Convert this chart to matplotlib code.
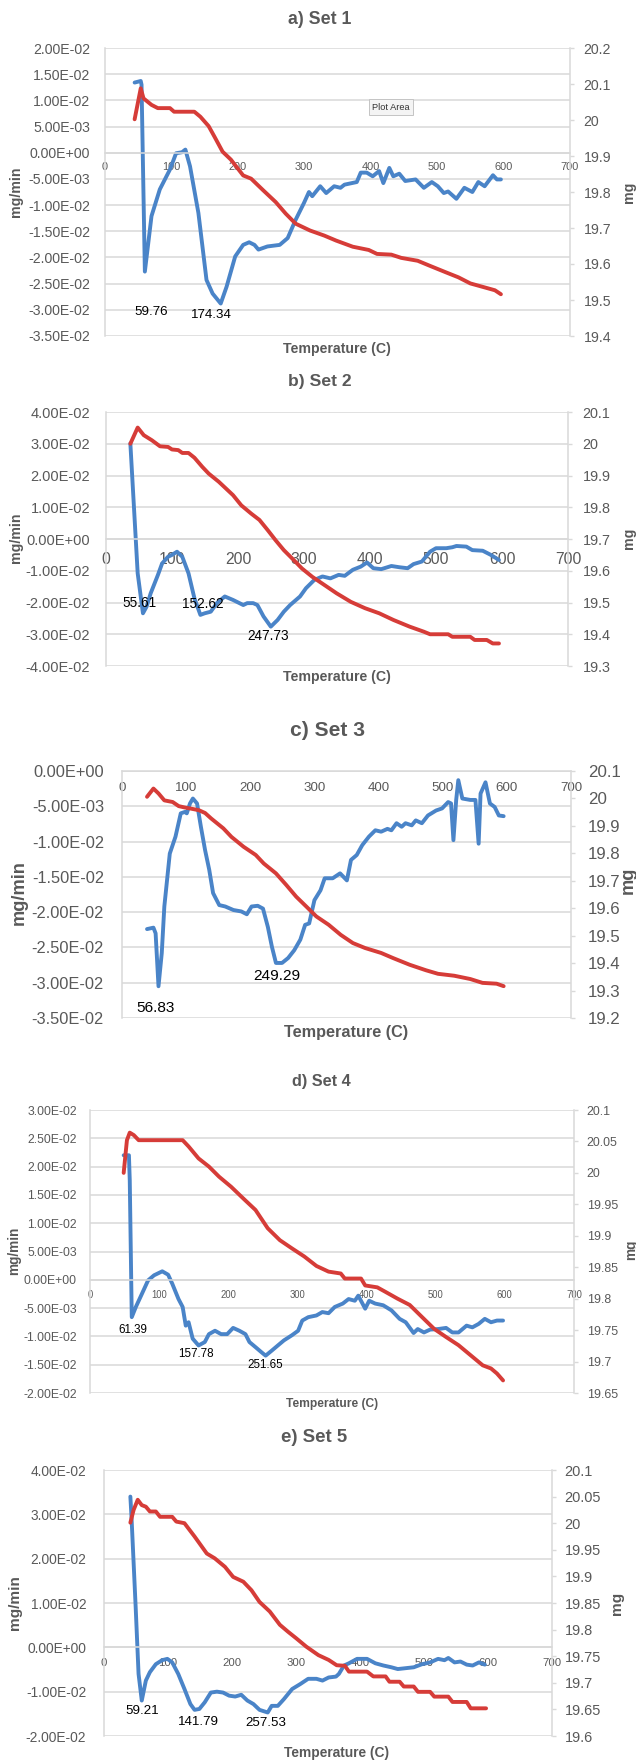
import numpy as np
import matplotlib
matplotlib.use('Agg')
import matplotlib.pyplot as plt
from matplotlib.ticker import FuncFormatter

plt.rcParams['font.family'] = ['Liberation Sans', 'DejaVu Sans']

# ---------------- DATA ----------------
# DTG values (mg/min) are stored in units of 1e-2 ; TG values in mg ; temperature in C
DTG_UNIT = 1e-2

set1_dtg = [(44.6, 1.34), (53.8, 1.37), (55, 1.30), (60, -2.27), (70, -1.21), (82.5, -0.70), (97.8, -0.32),
            (107, -0.01), (116, 0.01), (121, 0.06), (128, -0.26), (140.6, -1.15), (152.8, -2.43), (162, -2.69),
            (174.2, -2.88), (183, -2.56), (196, -1.98), (208, -1.76), (217, -1.71), (225, -1.76), (231, -1.85),
            (244.5, -1.79), (263, -1.76), (275, -1.63), (287, -1.28), (299.5, -0.96), (307, -0.75), (312, -0.83),
            (324, -0.64), (333, -0.77), (345, -0.64), (354.5, -0.67), (360.5, -0.61), (379, -0.56), (385, -0.38),
            (394, -0.38), (403, -0.45), (412.6, -0.35), (419, -0.58), (428, -0.29), (434, -0.45), (443, -0.40),
            (452, -0.54), (467.6, -0.51), (480, -0.67), (492, -0.56), (501, -0.64), (510, -0.77), (516.5, -0.74),
            (529, -0.88), (541, -0.67), (553, -0.75), (562, -0.56), (571.5, -0.64), (584, -0.43), (590, -0.51),
            (596, -0.51)]
set1_tg = [(44.6, 20.002), (53.8, 20.088), (58, 20.06), (70, 20.042), (79.5, 20.033), (97.8, 20.033),
           (104, 20.023), (134.5, 20.023), (143.6, 20.009), (156, 19.983), (165, 19.953), (177, 19.912),
           (189.5, 19.89), (208, 19.846), (220, 19.837), (238, 19.805), (257, 19.772), (272, 19.74), (287, 19.712),
           (308.7, 19.693), (330, 19.679), (348, 19.665), (373, 19.648), (397, 19.639), (409.5, 19.628),
           (431, 19.626), (446, 19.617), (470.7, 19.609), (489, 19.595), (513, 19.577), (532, 19.563),
           (550, 19.546), (571.5, 19.535), (587, 19.527), (596, 19.516)]
set1_peaks = ['59.76', '174.34']

set2_dtg = [(36.9, 3.01), (48, -1.08), (56, -2.34), (61.5, -2.13), (67.7, -1.71), (78.7, -1.13), (85, -0.77),
            (94, -0.56), (100, -0.50), (107.6, -0.40), (115.6, -0.56), (125, -1.08), (134, -1.87), (143, -2.39),
            (149.5, -2.34), (158.7, -2.29), (168, -2.02), (180, -1.81), (192.5, -1.92), (208, -2.08),
            (214, -2.02), (223, -2.02), (229.4, -2.08), (238.7, -2.44), (249.7, -2.76), (260, -2.55),
            (269.4, -2.29), (279, -2.08), (294, -1.81), (303, -1.55), (315.6, -1.29), (328, -1.18), (340, -1.24),
            (352.5, -1.13), (361.7, -1.16), (374, -0.97), (386, -0.87), (395.5, -0.74), (405, -0.92),
            (417, -0.95), (432.4, -0.85), (444.7, -0.89), (457, -0.92), (466, -0.79), (478.6, -0.71),
            (491, -0.40), (500, -0.29), (515.5, -0.29), (524.7, -0.26), (531, -0.22), (546, -0.24), (555, -0.35),
            (570.8, -0.37), (583, -0.50), (595.4, -0.66)]
set2_tg = [(36.9, 20.0), (48, 20.051), (57.2, 20.027), (69.5, 20.011), (81.8, 19.992), (94, 19.99), (100, 19.982),
           (109.5, 19.98), (115.6, 19.971), (125, 19.971), (134, 19.956), (146, 19.927), (155.6, 19.906),
           (171, 19.88), (192.5, 19.838), (205, 19.806), (220, 19.78), (232.5, 19.76), (245, 19.728),
           (257, 19.696), (269.4, 19.665), (284.8, 19.633), (297, 19.607), (312.5, 19.581), (331, 19.555),
           (349.4, 19.529), (371, 19.502), (392.5, 19.482), (414, 19.466), (435.5, 19.445), (460, 19.424),
           (481.6, 19.408), (491, 19.4), (518.5, 19.4), (524.7, 19.392), (552, 19.392), (558.5, 19.382),
           (577, 19.382), (586, 19.371), (595.4, 19.371)]
set2_peaks = ['55.61', '152.62', '247.73']

set3_dtg = [(39, -2.24), (49, -2.22), (52.4, -2.30), (56.9, -3.05), (62, -2.58), (66, -1.92), (74.5, -1.17),
            (83.4, -0.93), (91.6, -0.60), (98, -0.58), (101, -0.60), (106, -0.46), (110.5, -0.39), (117, -0.46),
            (123, -0.79), (129.5, -1.12), (136, -1.40), (142, -1.73), (151.6, -1.90), (161, -1.92),
            (173.7, -1.97), (186, -1.99), (194.6, -2.03), (202, -1.92), (211.6, -1.91), (219.8, -1.95),
            (227.4, -2.21), (233.7, -2.49), (240, -2.72), (249.5, -2.72), (259, -2.65), (268.5, -2.54),
            (278, -2.39), (285.5, -2.18), (291.8, -2.16), (300, -1.83), (309.5, -1.69), (316, -1.52),
            (328.5, -1.52), (340, -1.45), (350.6, -1.55), (357, -1.26), (366, -1.19), (374.6, -1.05),
            (385, -0.93), (395, -0.84), (404, -0.86), (413.8, -0.82), (420, -0.84), (428, -0.74), (436, -0.79),
            (442, -0.74), (451.7, -0.77), (458, -0.70), (467.5, -0.74), (477, -0.63), (489.6, -0.56),
            (499, -0.53), (508.5, -0.44), (513, -0.46), (516.7, -0.98), (521, -0.41), (524.3, -0.13),
            (530.6, -0.39), (543, -0.41), (551, -0.41), (556, -1.03), (559, -0.32), (566.7, -0.16),
            (573.6, -0.46), (581, -0.51), (587.5, -0.63), (595, -0.64)]
set3_tg = [(39, 20.006), (49, 20.036), (57, 20.018), (66, 19.993), (79, 19.987), (88.4, 19.972), (98, 19.967),
           (107.4, 19.963), (120, 19.957), (129.5, 19.947), (139, 19.927), (158, 19.891), (170.6, 19.86),
           (189.5, 19.824), (208.5, 19.794), (221, 19.763), (240, 19.727), (256, 19.685), (271.6, 19.642),
           (287.4, 19.606), (303, 19.57), (322, 19.54), (341, 19.503), (360, 19.473), (379, 19.455),
           (404, 19.437), (423, 19.418), (448.5, 19.394), (473.8, 19.374), (492.7, 19.361), (518, 19.354),
           (543, 19.342), (562, 19.328), (584, 19.325), (595, 19.316)]
set3_peaks = ['56.83', '249.29']

set4_dtg = [(48.7, 2.20), (56.3, 2.20), (57.5, 1.76), (60.4, -0.66), (66.3, -0.48), (75, -0.25), (84, -0.01),
            (92.7, 0.08), (104.5, 0.15), (113, 0.09), (119, -0.07), (128, -0.34), (134, -0.48), (138.5, -0.81),
            (142.6, -0.75), (148.5, -1.04), (157, -1.16), (166, -1.10), (172, -0.96), (180.8, -0.90),
            (189.6, -0.96), (198.4, -0.96), (207, -0.85), (216, -0.90), (224.8, -0.96), (230.6, -1.10),
            (239.4, -1.19), (248, -1.28), (254, -1.34), (263, -1.25), (271.7, -1.16), (280.5, -1.07),
            (292, -0.98), (301, -0.90), (307, -0.72), (315.7, -0.66), (327.5, -0.63), (336, -0.57), (345, -0.59),
            (354, -0.48), (365.6, -0.42), (374, -0.34), (383, -0.37), (388, -0.28), (398, -0.51), (403.8, -0.37),
            (412.5, -0.42), (424, -0.45), (436, -0.54), (447.8, -0.69), (456.6, -0.75), (468, -0.94),
            (474, -0.87), (483, -0.93), (491.8, -0.88), (503.5, -0.87), (515, -0.85), (524, -0.93),
            (533, -0.93), (544.6, -0.81), (553, -0.84), (562, -0.78), (571, -0.69), (580, -0.75),
            (588.6, -0.72), (597.4, -0.72)]
set4_tg = [(48.7, 20.0), (53.4, 20.052), (57.5, 20.064), (63.4, 20.06), (70.4, 20.052), (134, 20.052),
           (142.6, 20.042), (157, 20.023), (172, 20.01), (186.6, 19.994), (204, 19.978), (222, 19.959),
           (239.4, 19.941), (257, 19.912), (274.6, 19.893), (292, 19.88), (310, 19.867), (327.5, 19.852),
           (345, 19.843), (362.7, 19.84), (368.5, 19.832), (392, 19.832), (398, 19.821), (415.5, 19.818),
           (427, 19.811), (444.8, 19.8), (462.4, 19.79), (480, 19.771), (497.7, 19.752), (515, 19.739),
           (533, 19.726), (550.5, 19.71), (568, 19.694), (580, 19.689), (588.6, 19.681), (597.4, 19.67)]
set4_peaks = ['61.39', '157.78', '251.65']

set5_dtg = [(41.2, 3.40), (43, 2.93), (49.5, 0.90), (54, -0.60), (59, -1.20), (65.4, -0.75), (71.7, -0.56),
            (81, -0.38), (90.8, -0.29), (99, -0.26), (106.6, -0.34), (116, -0.60), (125.7, -0.94), (135, -1.28),
            (141.5, -1.41), (149, -1.39), (157.4, -1.24), (167, -1.02), (176.4, -1.00), (186, -1.02),
            (195.5, -1.09), (205, -1.11), (214.5, -1.07), (224, -1.20), (233.5, -1.28), (243, -1.41),
            (255.8, -1.47), (262, -1.32), (271.6, -1.32), (281, -1.17), (294, -0.94), (306.5, -0.83),
            (319, -0.71), (331.9, -0.71), (341.4, -0.75), (351, -0.68), (362.4, -0.66), (367, -0.60),
            (375, -0.41), (382.7, -0.36), (395.4, -0.26), (411, -0.26), (424, -0.36), (436.6, -0.41),
            (449, -0.45), (459, -0.49), (471.5, -0.47), (484, -0.45), (497, -0.38), (509.6, -0.34),
            (522, -0.26), (532, -0.29), (538, -0.24), (547.7, -0.34), (557, -0.32), (566.7, -0.39),
            (576, -0.41), (585.8, -0.34), (595, -0.39)]
set5_tg = [(41.2, 20.001), (46.3, 20.025), (52.7, 20.044), (59, 20.034), (65.4, 20.031), (71.7, 20.022),
           (81, 20.022), (87.6, 20.012), (106.6, 20.012), (113, 20.003), (125.7, 20.0), (141.5, 19.975),
           (160.6, 19.943), (173, 19.934), (189, 19.918), (201.8, 19.899), (217.7, 19.89), (230.4, 19.874),
           (243, 19.852), (259, 19.834), (274.8, 19.809), (287.5, 19.796), (300, 19.784), (316, 19.768),
           (335, 19.752), (351, 19.743), (363.6, 19.733), (376.4, 19.732), (382.7, 19.721), (411, 19.721),
           (420.8, 19.712), (440, 19.712), (446, 19.702), (462, 19.702), (468.4, 19.693), (484, 19.693),
           (490.6, 19.683), (509.6, 19.683), (516, 19.674), (538, 19.674), (544.5, 19.664), (566.7, 19.664),
           (573, 19.652), (597, 19.652)]
set5_peaks = ['59.21', '141.79', '257.53']

titles = ['a) Set 1', 'b) Set 2', 'c) Set 3', 'd) Set 4', 'e) Set 5']
x_ticks = [0, 100, 200, 300, 400, 500, 600, 700]
x_title = 'Temperature (C)'
left_title = 'mg/min'
right_title = 'mg'

# ---------------- LAYOUT / STYLE (pixel positions, font sizes) ----------------
W, H = 636, 1760
BLUE = '#4a84c8'
RED = '#d63c38'
GRID = '#d9d9d9'
TXT = '#595959'
FS = 0.85  # font scale (reference uses a narrow Calibri-like face)

layouts = [
    dict(box=(105, 48, 570, 336), left=(-0.035, 0.02, 0.005), right=(19.4, 20.2, 0.1),
         title_xy=(320, 19), title_fs=15, ytick_fs=12, xtick_fs=9.3, rtick_fs=12, ypad=10.8, rpad=7.2, xpad=6.8,
         xlabel_xy=(337, 349), xlabel_fs=12, ylabel_xy=(16, 192), ylabel_fs=12, rlabel_xy=(629, 192), rlabel_fs=12,
         ann_fs=11.3, ann_pos=[(70, -3.05), (160, -3.1)]),
    dict(box=(106, 412, 568, 666), left=(-0.04, 0.04, 0.01), right=(19.3, 20.1, 0.1),
         title_xy=(320, 381), title_fs=14.8, ytick_fs=12.4, xtick_fs=13.4, rtick_fs=12.2, ypad=11.5, rpad=7.9, xpad=9,
         xlabel_xy=(337, 677), xlabel_fs=12, ylabel_xy=(16, 538), ylabel_fs=12, rlabel_xy=(629, 538), rlabel_fs=12,
         ann_fs=11.5, ann_pos=[(51, -2.02), (146.4, -2.05), (246, -3.04)]),
    dict(box=(122, 771, 571, 1018), left=(-0.035, 0.0, 0.005), right=(19.2, 20.1, 0.1),
         title_xy=(327, 730), title_fs=17.8, ytick_fs=13.9, xtick_fs=11.3, rtick_fs=14.3, ypad=13, rpad=9.4, xpad=8,
         xlabel_xy=(346, 1032), xlabel_fs=13.8, ylabel_xy=(19, 893), ylabel_fs=15.5, rlabel_xy=(628, 880), rlabel_fs=15.5,
         ann_fs=13, ann_pos=[(52.4, -3.36), (242, -2.90)]),
    dict(box=(90, 1110, 574, 1393), left=(-0.02, 0.03, 0.005), right=(19.65, 20.1, 0.05),
         title_xy=(321, 1081), title_fs=13.8, ytick_fs=10.4, xtick_fs=8.1, rtick_fs=10.5, ypad=9.4, rpad=6.5, xpad=7,
         xlabel_xy=(332, 1404), xlabel_fs=10.2, ylabel_xy=(14, 1251), ylabel_fs=11.5, rlabel_xy=(631, 1250), rlabel_fs=11.5,
         ann_fs=9.8, ann_pos=[(62, -0.88), (152.6, -1.31), (253, -1.50)]),
    dict(box=(104, 1470, 552, 1736), left=(-0.02, 0.04, 0.01), right=(19.6, 20.1, 0.05),
         title_xy=(314, 1437), title_fs=15.8, ytick_fs=11.7, xtick_fs=9.6, rtick_fs=12.3, ypad=12.7, rpad=6.5, xpad=8,
         xlabel_xy=(336, 1753), xlabel_fs=11.7, ylabel_xy=(15, 1603), ylabel_fs=13, rlabel_xy=(617, 1603), rlabel_fs=13,
         ann_fs=11.3, ann_pos=[(59, -1.43), (148, -1.69), (252.6, -1.71)]),
]

fig = plt.figure(figsize=(W / 100, H / 100), dpi=100)


def fx(x):
    return x / W


def fy(y):
    return 1 - y / H


def make_ticks(lo, hi, st):
    n = int(round((hi - lo) / st))
    return [round(lo + i * st, 6) for i in range(n + 1)]


def draw(dtg, tg, peaks, title, lay):
    l, t, r, b = lay['box']
    ax = fig.add_axes([l / W, 1 - b / H, (r - l) / W, (b - t) / H])
    ax.patch.set_alpha(0)
    lo, hi, st = lay['left']
    ax.set_xlim(0, 700)
    ax.set_ylim(lo, hi)
    ax.set_yticks(make_ticks(lo, hi, st))
    ax.yaxis.set_major_formatter(FuncFormatter(lambda v, p: format(round(v, 6) + 0.0, '.2E')))
    ax.set_xticks(x_ticks)
    ax.set_xticklabels([str(v) for v in x_ticks])
    ax.yaxis.grid(True, color=GRID, lw=1.1)
    ax.set_axisbelow(True)
    for s in ('top', 'right'):
        ax.spines[s].set_visible(False)
    ax.spines['left'].set_color(GRID)
    ax.spines['left'].set_linewidth(1.1)
    ax.spines['bottom'].set_position(('data', 0))
    ax.spines['bottom'].set_color(GRID)
    ax.spines['bottom'].set_linewidth(1.1)
    ax.tick_params(axis='y', length=0, pad=lay['ypad'], labelsize=lay['ytick_fs'] * FS, labelcolor=TXT)
    ax.tick_params(axis='x', length=0, pad=lay['xpad'], labelsize=lay['xtick_fs'] * FS, labelcolor=TXT)

    d = np.array(dtg)
    ax.plot(d[:, 0], d[:, 1] * DTG_UNIT, color=BLUE, lw=2.8, solid_joinstyle='round', solid_capstyle='round')
    for txt, (px, py) in zip(peaks, lay['ann_pos']):
        ax.text(px, py * DTG_UNIT, txt, ha='center', va='center', fontsize=lay['ann_fs'] * FS, color='black')

    ax2 = ax.twinx()
    rlo, rhi, rst = lay['right']
    ax2.set_ylim(rlo, rhi)
    ax2.set_yticks(make_ticks(rlo, rhi, rst))
    ax2.yaxis.set_major_formatter(FuncFormatter(lambda v, p: format(round(v, 3), 'g')))
    for s in ('top', 'left', 'bottom'):
        ax2.spines[s].set_visible(False)
    ax2.spines['right'].set_color(GRID)
    ax2.spines['right'].set_linewidth(1.1)
    ax2.tick_params(axis='y', length=2.6, width=1.0, color=GRID, pad=lay['rpad'],
                    labelsize=lay['rtick_fs'] * FS, labelcolor=TXT)
    g = np.array(tg)
    ax2.plot(g[:, 0], g[:, 1], color=RED, lw=2.8, solid_joinstyle='round', solid_capstyle='round')

    fig.text(fx(lay['title_xy'][0]), fy(lay['title_xy'][1]), title, ha='center', va='center',
             fontsize=lay['title_fs'] * FS, fontweight='bold', color=TXT)
    fig.text(fx(lay['xlabel_xy'][0]), fy(lay['xlabel_xy'][1]), x_title, ha='center', va='center',
             fontsize=lay['xlabel_fs'] * FS, fontweight='bold', color=TXT)
    fig.text(fx(lay['ylabel_xy'][0]), fy(lay['ylabel_xy'][1]), left_title, ha='center', va='center',
             rotation=90, fontsize=lay['ylabel_fs'] * FS, fontweight='bold', color=TXT)
    fig.text(fx(lay['rlabel_xy'][0]), fy(lay['rlabel_xy'][1]), right_title, ha='center', va='center',
             rotation=90, fontsize=lay['rlabel_fs'] * FS, fontweight='bold', color=TXT)
    return ax


all_sets = [(set1_dtg, set1_tg, set1_peaks), (set2_dtg, set2_tg, set2_peaks), (set3_dtg, set3_tg, set3_peaks),
            (set4_dtg, set4_tg, set4_peaks), (set5_dtg, set5_tg, set5_peaks)]
for (dtg, tg, peaks), title, lay in zip(all_sets, titles, layouts):
    draw(dtg, tg, peaks, title, lay)

# Excel "Plot Area" tooltip visible in panel a
fig.text(fx(391), fy(107), 'Plot Area', ha='center', va='center', fontsize=6.7,
         color='#333333',
         bbox=dict(boxstyle='square,pad=0.35', fc='#f4f4f4', ec='#c4c4c4', lw=0.7))

fig.savefig('out.png', dpi=100)
